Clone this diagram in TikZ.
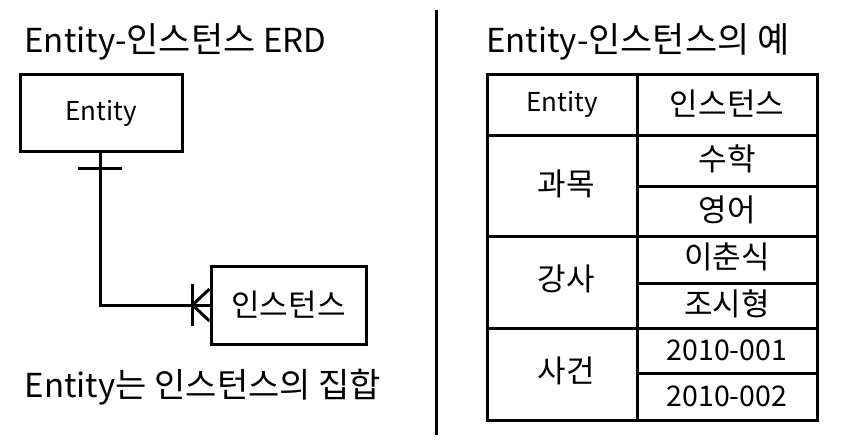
\documentclass[tikz,border=0pt]{standalone}
\usepackage{fontspec}
\setmainfont{Noto Sans CJK KR}
\newcommand\fs[1]{\fontsize{#1}{#1}\selectfont}
\begin{document}
\begin{tikzpicture}[x=1pt,y=-1pt,
  line/.style={line width=3pt},
  box/.style={draw,line width=3pt,minimum width=#1,inner sep=0pt},
  txt/.style={inner sep=0pt,font=\fs{26}},
  kr/.style={inner sep=0pt,font=\fs{31}},
  num/.style={inner sep=0pt,font=\fs{28.5}}]
\useasboundingbox (0,0) rectangle (842,446);
% divider
\coordinate (dt) at (436,10);
\coordinate (db) at (436,435);
\draw[line] (dt) -- (db);
% titles
\node[inner sep=0pt] (t1) at (175.5,42) {\fs{33}Entity-\fs{35}인스턴스 \fs{33}ERD};
\node[inner sep=0pt] (t2) at (638,42) {\fs{33}Entity-\fs{35}인스턴스의 예};
\node[inner sep=0pt] (t3) at (203,387) {\fs{33}Entity\fs{34}는 인스턴스의 집합};
% ERD
\node[box=162pt,minimum height=77pt,txt] (ent) at (101,113.5) {Entity};
\node[box=155pt,minimum height=78pt,kr] (inst) at (288.5,305) {인스턴스};
\coordinate (es) at (100,152);
\draw[line] (es) |- (inst.west);
\coordinate (bl) at (78,169);
\coordinate (br) at (122,169);
\draw[line] (bl) -- (br);
\coordinate (ft) at ([shift={(-17,-21)}]inst.west);
\coordinate (fb) at ([shift={(-17,21)}]inst.west);
\coordinate (fm) at ([shift={(-17,0)}]inst.west);
\draw[line] (ft) -- (fb);
\draw[line] (fm) -- ([yshift=-16pt]inst.west);
\draw[line] (fm) -- ([yshift=16pt]inst.west);
% table
\coordinate (tl) at (487,75);
\coordinate (trb) at (817,420);
\draw[line] (tl) rectangle (trb);
\draw[line] (637,75) -- (637,420);
\draw[line] (487,136) -- (817,136);
\draw[line] (487,236) -- (817,236);
\draw[line] (487,328) -- (817,328);
\draw[line] (637,187) -- (817,187);
\draw[line] (637,283) -- (817,283);
\draw[line] (637,373) -- (817,373);
\node[txt] (h1) at (562,104) {Entity};
\node[kr] (h2) at (727,104) {인스턴스};
\node[kr] (g1) at (566,184) {과목};
\node[kr] (a1) at (727,159) {수학};
\node[kr] (a2) at (727,210) {영어};
\node[kr] (g2) at (566,279) {강사};
\node[kr] (b1) at (727,257) {이춘식};
\node[kr] (b2) at (727,304) {조시형};
\node[kr] (g3) at (566,371) {사건};
\node[num] (c1) at (727,350) {2010-001};
\node[num] (c2) at (727,396) {2010-002};
\end{tikzpicture}
\end{document}
